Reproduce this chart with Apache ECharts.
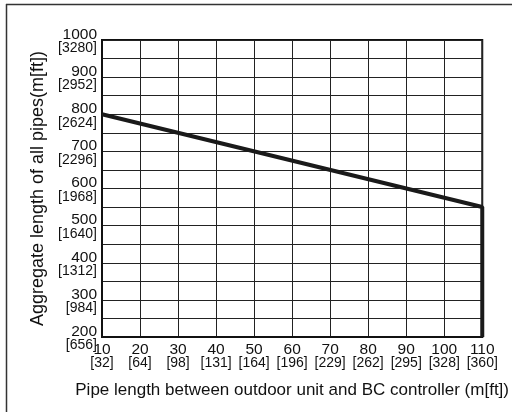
<!DOCTYPE html>
<html>
<head>
<meta charset="utf-8">
<script src="https://cdn.jsdelivr.net/npm/echarts@6/dist/echarts.min.js"></script>
<style>html,body{margin:0;padding:0;background:#fff}#c{width:512px;height:412px}</style>
</head>
<body>
<div id="c"></div>
<script>
var xTicks = [10, 20, 30, 40, 50, 60, 70, 80, 90, 100, 110];
var xFeet = [32, 64, 98, 131, 164, 196, 229, 262, 295, 328, 360];
var yTicks = [200, 300, 400, 500, 600, 700, 800, 900, 1000];
var yFeet = [656, 984, 1312, 1640, 1968, 2296, 2624, 2952, 3280];
var limitX = [10, 110, 110];
var limitY = [800, 550, 200];

var lineData = limitX.map(function (x, i) { return [x, limitY[i]]; });
var font = 'Liberation Sans, Arial, sans-serif';

var chart = echarts.init(document.getElementById('c'), null, {renderer: 'canvas'});
chart.setOption({
  animation: false,
  backgroundColor: '#fff',
  grid: {left: 102, right: 28, top: 40, bottom: 75, show: true, borderColor: '#111', borderWidth: 2},
  xAxis: {
    type: 'value', min: 10, max: 110, interval: 10,
    name: 'Pipe length between outdoor unit and BC controller (m[ft])',
    nameLocation: 'middle', nameGap: 45,
    nameTextStyle: {fontFamily: font, fontSize: 17, color: '#111'},
    axisLine: {show: true, lineStyle: {color: '#111', width: 2}},
    axisTick: {show: false},
    splitLine: {show: true, lineStyle: {color: '#222', width: 1}},
    axisLabel: {
      margin: 6, showMinLabel: true, showMaxLabel: true, hideOverlap: false,
      formatter: function (v) {
        var i = xTicks.indexOf(v);
        if (i < 0) return '';
        return '{a|' + v + '}\n{b|[' + xFeet[i] + ']}';
      },
      rich: {
        a: {fontFamily: font, fontSize: 15.5, color: '#111', lineHeight: 13},
        b: {fontFamily: font, fontSize: 14, color: '#111', lineHeight: 14}
      }
    }
  },
  yAxis: {
    type: 'value', min: 200, max: 1000, interval: 50,
    name: 'Aggregate length of all pipes(m[ft])',
    nameLocation: 'middle', nameGap: 55,
    nameTextStyle: {fontFamily: font, fontSize: 18, color: '#111'},
    axisLine: {show: true, lineStyle: {color: '#111', width: 2}},
    axisTick: {show: false},
    splitLine: {show: true, lineStyle: {color: '#222', width: 1}},
    axisLabel: {
      margin: 5, showMinLabel: true, showMaxLabel: true, hideOverlap: false,
      align: 'right',
      padding: [4, 0, 0, 0],
      formatter: function (v) {
        var i = yTicks.indexOf(v);
        if (i < 0) return '';
        return '{a|' + v + '}\n{b|[' + yFeet[i] + ']}';
      },
      rich: {
        a: {fontFamily: font, fontSize: 15.5, color: '#111', lineHeight: 13, align: 'right'},
        b: {fontFamily: font, fontSize: 14, color: '#111', lineHeight: 15, align: 'right'}
      }
    }
  },
  series: [{
    type: 'line',
    data: lineData,
    symbol: 'none',
    clip: false,
    lineStyle: {color: '#1a1a1a', width: 4},
    silent: true
  }],
  graphic: [
    {type: 'line', shape: {x1: 6.5, y1: 4, x2: 6.5, y2: 420}, style: {stroke: '#333', lineWidth: 1.5}},
    {type: 'line', shape: {x1: 6, y1: 4.5, x2: 520, y2: 4.5}, style: {stroke: '#333', lineWidth: 1.5}}
  ]
});
</script>
</body>
</html>
